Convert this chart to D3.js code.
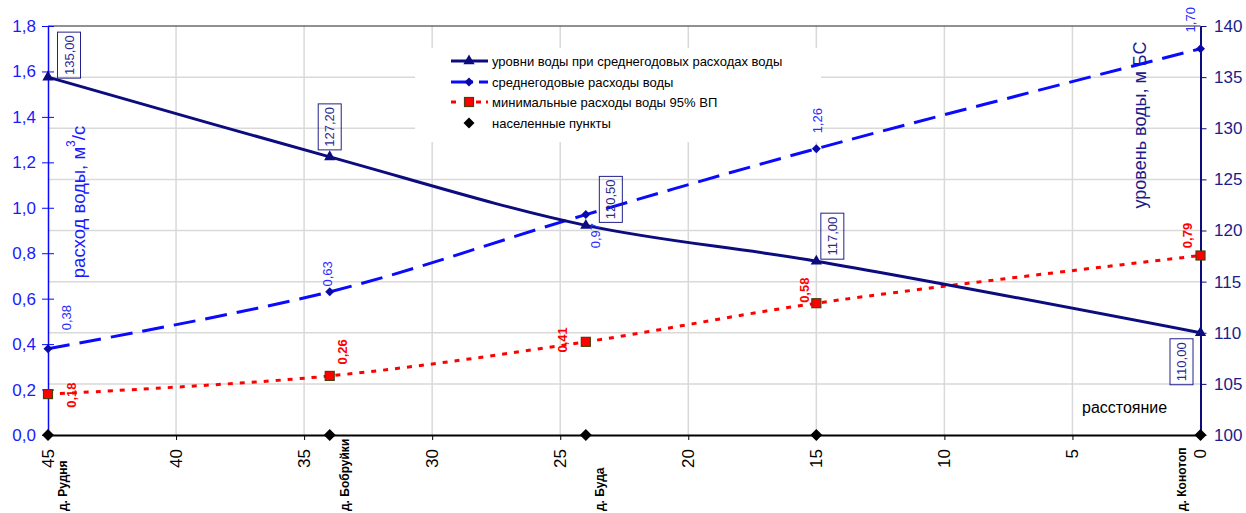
<!DOCTYPE html>
<html>
<head>
<meta charset="utf-8">
<script src="https://cdn.jsdelivr.net/npm/d3@7"></script>
<style>
  html, body { margin: 0; padding: 0; background: #fff; }
  svg { display: block; font-family: "Liberation Sans", Arial, sans-serif; }
</style>
</head>
<body>
<svg id="chart" width="1246" height="513"></svg>
<script>
// Distance along the river, km (reversed axis: 45 at left, 0 at right)
const distanceKm = [45, 34, 24, 15, 0];
// Water levels at mean annual discharge, m (Baltic system)
const waterLevel = [135.00, 127.20, 120.50, 117.00, 110.00];
// Mean annual discharge, m³/s
const meanFlow = [0.38, 0.63, 0.97, 1.26, 1.70];
// Minimum discharge, 95% probability
const minFlow = [0.18, 0.26, 0.41, 0.58, 0.79];
// Settlements along the river
const settlementNames = ["д. Рудня", "д. Бобруйки", "д. Буда", "", "д. Конотоп"];

// Axis ticks
const xTicks = [45, 40, 35, 30, 25, 20, 15, 10, 5, 0];
const leftTicks = [0, 0.2, 0.4, 0.6, 0.8, 1.0, 1.2, 1.4, 1.6, 1.8];
const rightTicks = [100, 105, 110, 115, 120, 125, 130, 135, 140];

const legendLabels = [
  "уровни воды при среднегодовых расходах воды",
  "среднегодовые расходы воды",
  "минимальные расходы воды 95% ВП",
  "населенные пункты"
];

// Label placement (offsets from the point, px)
const levelLabelOffset = [[21, -22], [0, -30], [25, -26], [16, -25], [-19, 29]];
const meanLabelOffset = [[18, -31], [-2, -18], [10, 21], [1, -28], [-10, -29]];
const minLabelOffset = [[23, 1], [13, -24], [-23, -2], [-12, -13], [-13, -20]];
const settlementDx = [15, 15, 14, 0, -19];

const NAVY = "#0c0c7e";
const BLUE = "#0a0aff";
const RED = "#ff0000";
const fmt = (v, d) => v.toFixed(d).replace(".", ",");

const svg = d3.select("#chart");
const plotL = 48, plotR = 1200.5, plotT = 26, plotB = 435;

const x = d3.scaleLinear().domain([45, 0]).range([plotL, plotR]);
const yL = d3.scaleLinear().domain([0, 1.8]).range([plotB, plotT]);
const yR = d3.scaleLinear().domain([100, 140]).range([plotB, plotT]);

// Grid
const grid = svg.append("g").attr("stroke", "#d9d9d9").attr("stroke-width", 1.5);
grid.selectAll("line.h").data(rightTicks.slice(1, -1)).join("line")
  .attr("class", "h")
  .attr("x1", plotL).attr("x2", plotR)
  .attr("y1", d => yR(d)).attr("y2", d => yR(d));
grid.selectAll("line.v").data(xTicks.slice(1, -1)).join("line")
  .attr("class", "v")
  .attr("x1", d => x(d)).attr("x2", d => x(d))
  .attr("y1", plotT).attr("y2", plotB);

// Top border
svg.append("line").attr("x1", plotL).attr("x2", plotR).attr("y1", plotT).attr("y2", plotT)
  .attr("stroke", "#222").attr("stroke-width", 1);

// Bottom axis
const xAxis = svg.append("g").attr("transform", `translate(0,${plotB})`)
  .call(d3.axisBottom(x).tickValues(xTicks).tickSize(5).tickSizeOuter(0).tickFormat(""));
xAxis.select(".domain").attr("stroke", "#000").attr("stroke-width", 2);
xAxis.selectAll(".tick line").attr("stroke", "#000");
svg.append("g").selectAll("text").data(xTicks).join("text")
  .attr("transform", d => `translate(${x(d)},449) rotate(-90)`)
  .attr("text-anchor", "end").attr("dominant-baseline", "central")
  .attr("font-size", 17).attr("fill", "#000")
  .text(d => d);

// Left axis
const yAxisL = svg.append("g").attr("transform", `translate(${plotL},0)`)
  .call(d3.axisLeft(yL).tickValues(leftTicks).tickSize(6).tickSizeOuter(0).tickFormat(""));
yAxisL.select(".domain").attr("stroke", BLUE).attr("stroke-width", 1.5);
yAxisL.selectAll(".tick line").attr("stroke", BLUE).attr("x2", -6).attr("x1", 6);
svg.append("g").selectAll("text").data(leftTicks).join("text")
  .attr("x", 36).attr("y", d => yL(d)).attr("dy", "0.35em")
  .attr("text-anchor", "end").attr("font-size", 17).attr("fill", "#1a1aff")
  .text(d => fmt(d, 1));

// Right axis
const yAxisR = svg.append("g").attr("transform", `translate(${plotR},0)`)
  .call(d3.axisRight(yR).tickValues(rightTicks).tickSize(6).tickSizeOuter(0).tickFormat(""));
yAxisR.select(".domain").attr("stroke", NAVY).attr("stroke-width", 2);
yAxisR.selectAll(".tick line").attr("stroke", NAVY);
svg.append("g").selectAll("text").data(rightTicks).join("text")
  .attr("x", 1214).attr("y", d => yR(d)).attr("dy", "0.35em")
  .attr("text-anchor", "start").attr("font-size", 17).attr("fill", "#1c1c8a")
  .text(d => d);

// Axis titles
const tL = svg.append("text")
  .attr("transform", "translate(78,202) rotate(-90)")
  .attr("text-anchor", "middle").attr("dominant-baseline", "central")
  .attr("font-size", 18.5).attr("fill", "#1a1aff");
tL.append("tspan").text("расход воды,  м");
tL.append("tspan").attr("baseline-shift", "super").attr("font-size", 12).text("3");
tL.append("tspan").text("/с");

svg.append("text")
  .attr("transform", "translate(1140,125) rotate(-90)")
  .attr("text-anchor", "middle").attr("dominant-baseline", "central")
  .attr("font-size", 18).attr("fill", "#1c1c8a")
  .text("уровень воды, м БС");

svg.append("text").attr("x", 1082).attr("y", 413)
  .attr("font-size", 16).attr("fill", "#000").text("расстояние");

// Legend background
svg.append("rect").attr("x", 415).attr("y", 48).attr("width", 406).attr("height", 94)
  .attr("fill", "#fff");

// Series
const curve = d3.curveCatmullRom.alpha(0.5);
const levelPts = distanceKm.map((k, i) => [x(k), yR(waterLevel[i])]);
const meanPts = distanceKm.map((k, i) => [x(k), yL(meanFlow[i])]);
const minPts = distanceKm.map((k, i) => [x(k), yL(minFlow[i])]);
const line = d3.line().curve(curve);

svg.append("path").attr("d", line(minPts)).attr("fill", "none")
  .attr("stroke", RED).attr("stroke-width", 3).attr("stroke-dasharray", "5,7");
svg.append("path").attr("d", line(meanPts)).attr("fill", "none")
  .attr("stroke", BLUE).attr("stroke-width", 3).attr("stroke-dasharray", "22,10");
svg.append("path").attr("d", line(levelPts)).attr("fill", "none")
  .attr("stroke", NAVY).attr("stroke-width", 3);

// Markers
const tri = d3.symbol().type(d3.symbolTriangle).size(55);
const diamond = r => `M0,${-r}L${r},0L0,${r}L${-r},0Z`;

svg.append("g").selectAll("path").data(levelPts).join("path")
  .attr("transform", d => `translate(${d[0]},${d[1]})`).attr("d", tri).attr("fill", NAVY);
svg.append("g").selectAll("path").data(meanPts).join("path")
  .attr("transform", d => `translate(${d[0]},${d[1]})`).attr("d", diamond(4.5)).attr("fill", "#0a0aaa");
svg.append("g").selectAll("rect").data(minPts).join("rect")
  .attr("x", d => d[0] - 4.5).attr("y", d => d[1] - 4.5).attr("width", 9).attr("height", 9)
  .attr("fill", RED).attr("stroke", "#4a4010").attr("stroke-width", 1.2);
svg.append("g").selectAll("path").data(distanceKm).join("path")
  .attr("transform", d => `translate(${x(d)},${yL(0)})`).attr("d", diamond(6)).attr("fill", "#000");

// Level labels in boxes
const lv = svg.append("g").selectAll("g").data(levelPts).join("g")
  .attr("transform", (d, i) => `translate(${d[0] + levelLabelOffset[i][0]},${d[1] + levelLabelOffset[i][1]}) rotate(-90)`);
lv.append("rect").attr("x", -23).attr("y", -11.5).attr("width", 46).attr("height", 23)
  .attr("fill", "none").attr("stroke", "#22228a").attr("stroke-width", 1);
lv.append("text").attr("text-anchor", "middle").attr("dominant-baseline", "central")
  .attr("font-size", 13).attr("fill", "#2a2a8e")
  .text((d, i) => fmt(waterLevel[i], 2));

// Mean flow labels
svg.append("g").selectAll("text").data(meanPts).join("text")
  .attr("transform", (d, i) => `translate(${d[0] + meanLabelOffset[i][0]},${d[1] + meanLabelOffset[i][1]}) rotate(-90)`)
  .attr("text-anchor", "middle").attr("dominant-baseline", "central")
  .attr("font-size", 13).attr("fill", "#2a2aff")
  .text((d, i) => fmt(meanFlow[i], 2));

// Minimum flow labels
svg.append("g").selectAll("text").data(minPts).join("text")
  .attr("transform", (d, i) => `translate(${d[0] + minLabelOffset[i][0]},${d[1] + minLabelOffset[i][1]}) rotate(-90)`)
  .attr("text-anchor", "middle").attr("dominant-baseline", "central")
  .attr("font-size", 13).attr("font-weight", "bold").attr("fill", RED)
  .text((d, i) => fmt(minFlow[i], 2));

// Settlement names
svg.append("g").selectAll("text").data(distanceKm).join("text")
  .attr("transform", (d, i) => `translate(${x(d) + settlementDx[i]},511) rotate(-90)`)
  .attr("text-anchor", "start").attr("dominant-baseline", "central")
  .attr("font-size", 12).attr("font-weight", "bold").attr("fill", "#000")
  .text((d, i) => settlementNames[i]);

// Legend
const lg = svg.append("g");
const ly = [61, 82, 102, 123];
const lx0 = 451, lx1 = 488, lxm = 469;
lg.append("line").attr("x1", lx0).attr("x2", lx1).attr("y1", ly[0]).attr("y2", ly[0])
  .attr("stroke", NAVY).attr("stroke-width", 3);
lg.append("path").attr("transform", `translate(${lxm},${ly[0]})`).attr("d", tri).attr("fill", NAVY);
lg.append("line").attr("x1", lx0).attr("x2", lx1).attr("y1", ly[1]).attr("y2", ly[1])
  .attr("stroke", BLUE).attr("stroke-width", 3).attr("stroke-dasharray", "22,6");
lg.append("path").attr("transform", `translate(${lxm},${ly[1]})`).attr("d", diamond(4.5)).attr("fill", "#0a0aaa");
lg.append("line").attr("x1", lx0).attr("x2", lx1).attr("y1", ly[2]).attr("y2", ly[2])
  .attr("stroke", RED).attr("stroke-width", 3).attr("stroke-dasharray", "5,7,0,13,5");
lg.append("rect").attr("x", lxm - 4.5).attr("y", ly[2] - 4.5).attr("width", 9).attr("height", 9)
  .attr("fill", RED).attr("stroke", "#4a4010").attr("stroke-width", 1.2);
lg.append("path").attr("transform", `translate(${lxm},${ly[3]})`).attr("d", diamond(5.5)).attr("fill", "#000");
lg.selectAll("text").data(legendLabels).join("text")
  .attr("x", 492).attr("y", (d, i) => ly[i]).attr("dy", "0.35em")
  .attr("font-size", 13).attr("fill", "#000")
  .text(d => d);
</script>
</body>
</html>
